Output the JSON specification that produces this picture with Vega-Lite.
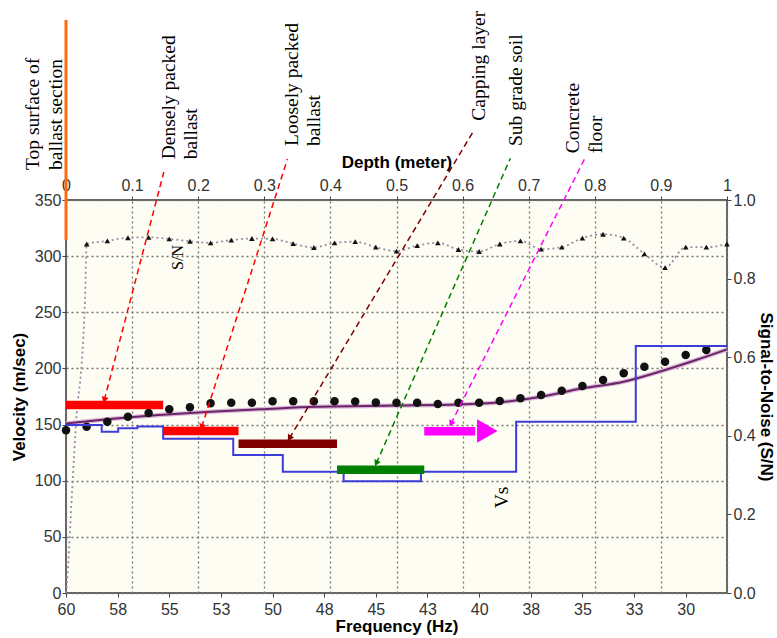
{
  "$schema": "https://vega.github.io/schema/vega-lite/v6.json",
  "width": 661,
  "height": 393,
  "autosize": {"type": "none"},
  "padding": {"left": 66, "top": 200, "right": 50, "bottom": 45},
  "background": "white",
  "config": {
    "view": {"stroke": "#333333", "strokeWidth": 1.5, "fill": "#fdfdf3"},
    "axis": {
      "labelFont": "Liberation Sans", "labelFontSize": 16, "labelColor": "#333333",
      "titleFont": "Liberation Sans", "titleFontSize": 17, "titleFontWeight": "bold", "titleColor": "#000000",
      "tickColor": "#444444", "tickSize": 4, "domain": false,
      "gridColor": "#777777", "gridDash": [2, 3], "gridWidth": 1.3,
      "labelFlush": false, "labelOverlap": false
    },
    "point": {"opacity": 1}
  },
  "datasets": {
    "sn": [
      {"f": 60, "sn": 0.0}, {"f": 59.97, "sn": 0.016}, {"f": 59.89, "sn": 0.076}, {"f": 59.72, "sn": 0.245},
      {"f": 59.48, "sn": 0.458}, {"f": 59.24, "sn": 0.584}, {"f": 59.08, "sn": 0.746},
      {"f": 59, "sn": 0.888}, {"f": 58, "sn": 0.896}, {"f": 57, "sn": 0.904}, {"f": 56, "sn": 0.905},
      {"f": 55, "sn": 0.901}, {"f": 54, "sn": 0.895}, {"f": 53, "sn": 0.891}, {"f": 52, "sn": 0.898},
      {"f": 51, "sn": 0.902}, {"f": 50, "sn": 0.901}, {"f": 49, "sn": 0.889}, {"f": 48, "sn": 0.879},
      {"f": 47, "sn": 0.891}, {"f": 46, "sn": 0.894}, {"f": 45, "sn": 0.880}, {"f": 44, "sn": 0.870},
      {"f": 43, "sn": 0.884}, {"f": 42, "sn": 0.891}, {"f": 41, "sn": 0.874}, {"f": 40, "sn": 0.869},
      {"f": 39, "sn": 0.888}, {"f": 38, "sn": 0.896}, {"f": 37, "sn": 0.875}, {"f": 36, "sn": 0.880},
      {"f": 35, "sn": 0.903}, {"f": 34, "sn": 0.913}, {"f": 33, "sn": 0.903}, {"f": 32, "sn": 0.863},
      {"f": 31, "sn": 0.828}, {"f": 30, "sn": 0.880}, {"f": 29, "sn": 0.880}, {"f": 28, "sn": 0.888}
    ],
    "dispersion": [
      {"f": 60, "v": 145}, {"f": 59, "v": 148.1}, {"f": 58, "v": 152.6}, {"f": 57, "v": 157.0},
      {"f": 56, "v": 160.3}, {"f": 55, "v": 163.6}, {"f": 54, "v": 165.5}, {"f": 53, "v": 169.0},
      {"f": 52, "v": 169.5}, {"f": 51, "v": 169.5}, {"f": 50, "v": 170.8}, {"f": 49, "v": 170.8},
      {"f": 48, "v": 170.8}, {"f": 47, "v": 170.8}, {"f": 46, "v": 170.6}, {"f": 45, "v": 169.6},
      {"f": 44, "v": 169.5}, {"f": 43, "v": 169.5}, {"f": 42, "v": 168.3}, {"f": 41, "v": 169.5},
      {"f": 40, "v": 169.5}, {"f": 39, "v": 171.0}, {"f": 38, "v": 173.4}, {"f": 37, "v": 176.3},
      {"f": 36, "v": 180.2}, {"f": 35, "v": 184.4}, {"f": 34, "v": 189.7}, {"f": 33, "v": 195.7},
      {"f": 32, "v": 201.6}, {"f": 31, "v": 206.0}, {"f": 30, "v": 212.0}, {"f": 29, "v": 216.4}
    ],
    "fit": [
      {"f": 60, "v": 151}, {"f": 58, "v": 154.7}, {"f": 55.5, "v": 158.5}, {"f": 53, "v": 161.5},
      {"f": 50.6, "v": 163.6}, {"f": 47.9, "v": 165.9}, {"f": 44, "v": 166.9}, {"f": 41, "v": 167.8},
      {"f": 39, "v": 169.8}, {"f": 37, "v": 174.8}, {"f": 35, "v": 182.3}, {"f": 33, "v": 188.2},
      {"f": 31, "v": 198.6}, {"f": 29.5, "v": 207.5}, {"f": 28, "v": 217}
    ],
    "vs": [
      {"d": 0, "v": 149.6}, {"d": 0.054, "v": 143.7}, {"d": 0.079, "v": 146.8}, {"d": 0.108, "v": 148.3},
      {"d": 0.147, "v": 137.4}, {"d": 0.253, "v": 122.9}, {"d": 0.328, "v": 108.0}, {"d": 0.420, "v": 99.5},
      {"d": 0.537, "v": 108.0}, {"d": 0.681, "v": 152.6}, {"d": 0.862, "v": 220.0}, {"d": 1.0, "v": 220.0}
    ],
    "bars": [
      {"layer": "Densely packed ballast", "d": 0, "d2": 0.147, "v": 167.4},
      {"layer": "Loosely packed ballast", "d": 0.148, "d2": 0.261, "v": 144.3},
      {"layer": "Capping layer", "d": 0.261, "d2": 0.410, "v": 132.9},
      {"layer": "Sub grade soil", "d": 0.410, "d2": 0.542, "v": 109.8},
      {"layer": "Concrete floor", "d": 0.542, "d2": 0.619, "v": 144.0}
    ],
    "arrows": [
      {"layer": "Densely packed ballast", "d": 0.058, "v": 171.9, "d2": 0.148, "v2": 374.9},
      {"layer": "Loosely packed ballast", "d": 0.2053, "v": 147.8, "d2": 0.335, "v2": 386.5},
      {"layer": "Capping layer", "d": 0.338, "v": 137.8, "d2": 0.615, "v2": 409.9},
      {"layer": "Sub grade soil", "d": 0.4695, "v": 115.5, "d2": 0.6722, "v2": 387.1},
      {"layer": "Concrete floor", "d": 0.5825, "v": 150.8, "d2": 0.785, "v2": 387.1}
    ],
    "notes": [
      {"label": "Top surface of\nballast section", "d": -0.0404, "v": 376.7},
      {"label": "Densely packed\nballast", "d": 0.1649, "v": 386.3},
      {"label": "Loosely packed\nballast", "d": 0.3505, "v": 398.1},
      {"label": "Capping layer", "d": 0.6346, "v": 420.6},
      {"label": "Sub grade soil", "d": 0.6906, "v": 398.1},
      {"label": "Concrete\nfloor", "d": 0.7761, "v": 391.6},
      {"label": "Vs", "d": 0.6687, "v": 75.4}
    ]
  },
  "layer": [
    {
      "data": {"name": "sn"},
      "encoding": {
        "x": {"field": "f", "type": "quantitative", "scale": {"domain": [28, 60], "reverse": true, "nice": false, "zero": false}, "axis": null},
        "y": {"field": "sn", "type": "quantitative", "scale": {"domain": [0, 1], "nice": false},
              "axis": {"orient": "right", "title": "Signal-to-Noise (S/N)", "values": [0, 0.2, 0.4, 0.6, 0.8, 1], "format": ".1f", "grid": false, "labelPadding": 2, "titlePadding": 1}}
      },
      "layer": [
        {"mark": {"type": "line", "interpolate": "monotone", "stroke": "#9b8aa6", "strokeWidth": 1.8, "strokeDash": [2, 3]}},
        {"transform": [{"filter": "datum.f <= 59"}], "mark": {"type": "point", "shape": "triangle-up", "filled": true, "size": 32, "color": "#111111"}}
      ]
    },
    {
      "encoding": {
        "x": {"field": "f", "type": "quantitative", "scale": {"domain": [28, 60], "reverse": true, "nice": false, "zero": false},
              "axis": {"orient": "bottom", "title": "Frequency (Hz)", "values": [60, 57.5, 55, 52.5, 50, 47.5, 45, 42.5, 40, 37.5, 35, 32.5, 30], "format": ".0f", "grid": false, "labelPadding": 4, "titlePadding": 1}},
        "y": {"field": "v", "type": "quantitative", "scale": {"domain": [0, 350], "nice": false}, "axis": null}
      },
      "layer": [
        {"data": {"name": "fit"}, "mark": {"type": "line", "interpolate": "monotone", "stroke": "#dcb8dc", "strokeWidth": 4.5}},
        {"data": {"name": "fit"}, "mark": {"type": "line", "interpolate": "monotone", "stroke": "#6b2566", "strokeWidth": 2}},
        {"data": {"name": "dispersion"}, "mark": {"type": "point", "shape": "circle", "filled": true, "size": 72, "color": "#111111"}}
      ]
    },
    {
      "encoding": {
        "x": {"field": "d", "type": "quantitative", "scale": {"domain": [0, 1], "nice": false, "zero": false},
              "axis": {"orient": "top", "title": "Depth (meter)", "values": [0, 0.1, 0.2, 0.3, 0.4, 0.5, 0.6, 0.7, 0.8, 0.9, 1], "format": "~g", "grid": true, "labelPadding": 3, "titlePadding": 6}},
        "y": {"field": "v", "type": "quantitative", "scale": {"domain": [0, 350], "nice": false},
              "axis": {"orient": "left", "title": "Velocity (m/sec)", "values": [0, 50, 100, 150, 200, 250, 300, 350], "grid": true, "labelPadding": 1, "titlePadding": 6}}
      },
      "layer": [
        {"data": {"name": "vs"}, "mark": {"type": "line", "interpolate": "step-after", "stroke": "#3c3cd8", "strokeWidth": 2}},
        {"data": {"values": [{"d": 0, "v": 314.4, "v2": 510.3}]}, "mark": {"type": "rule", "stroke": "#ff6a10", "strokeWidth": 3}, "encoding": {"y2": {"field": "v2"}}},
        {"data": {"name": "bars"}, "mark": {"type": "rule", "strokeWidth": 8.5},
         "encoding": {"x2": {"field": "d2"},
                      "color": {"field": "layer", "type": "nominal", "legend": null,
                                "scale": {"domain": ["Densely packed ballast", "Loosely packed ballast", "Capping layer", "Sub grade soil", "Concrete floor"], "range": ["#ff0000", "#ff0000", "#800000", "#008000", "#ff00ff"]}}}},
        {"data": {"values": [{"d": 0.6374, "v": 144.3}]}, "mark": {"type": "point", "shape": "triangle-right", "filled": true, "size": 560, "color": "#ff00ff"}},
        {"data": {"name": "arrows"}, "mark": {"type": "rule", "strokeWidth": 1.5, "strokeDash": [6, 4]},
         "encoding": {"x2": {"field": "d2"}, "y2": {"field": "v2"},
                      "color": {"field": "layer", "type": "nominal", "legend": null}}},
        {"data": {"name": "arrows"}, "mark": {"type": "point", "shape": "triangle-down", "filled": true, "size": 50},
         "encoding": {"color": {"field": "layer", "type": "nominal", "legend": null},
                      "angle": {"field": "layer", "type": "nominal", "legend": null,
                                "scale": {"type": "ordinal", "domain": ["Densely packed ballast", "Loosely packed ballast", "Capping layer", "Sub grade soil", "Concrete floor"], "range": [14.7, 17.8, 31, 23.7, 26.8]}}}},
        {"data": {"name": "notes"}, "mark": {"type": "text", "angle": 270, "align": "left", "baseline": "alphabetic", "font": "Liberation Serif", "fontSize": 19.5, "lineBreak": "\n", "lineHeight": 22.5, "color": "#000000"},
         "encoding": {"text": {"field": "label", "type": "nominal"}}},
        {"data": {"values": [{"label": "S/N", "d": 0.177, "v": 287.7}]}, "mark": {"type": "text", "angle": 270, "align": "left", "baseline": "alphabetic", "font": "Liberation Serif", "fontSize": 16, "color": "#000000"},
         "encoding": {"text": {"field": "label", "type": "nominal"}}}
      ]
    }
  ],
  "resolve": {"scale": {"x": "independent", "y": "independent"}}
}
